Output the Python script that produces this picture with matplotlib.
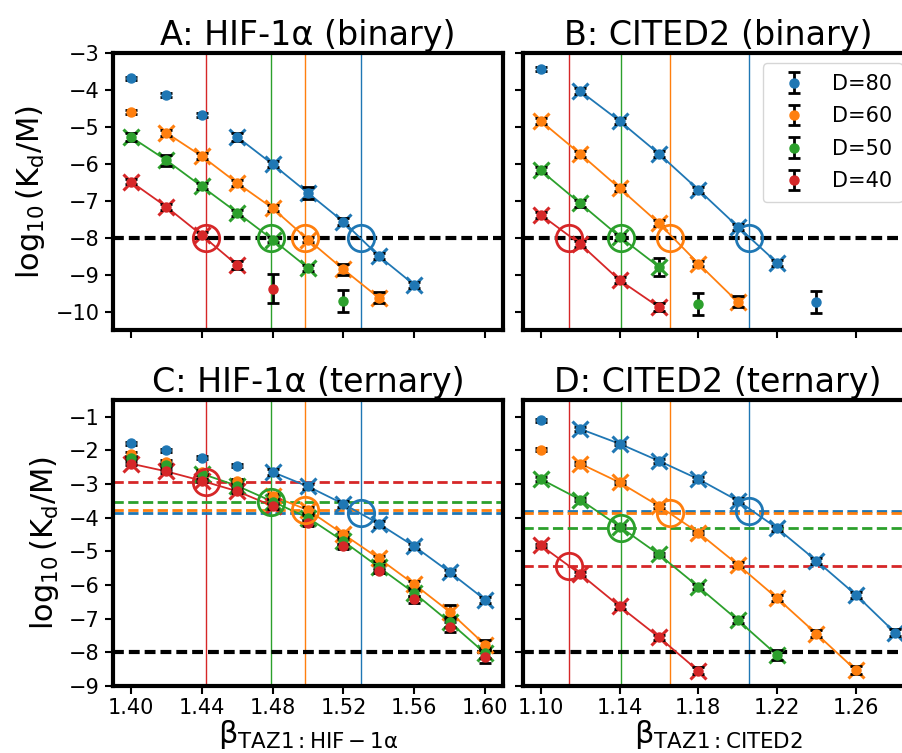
import numpy as np
import matplotlib
matplotlib.use("Agg")
import matplotlib.pyplot as plt

plt.rcParams["font.family"] = ["DejaVu Sans"]
plt.rcParams["mathtext.fontset"] = "dejavusans"

labels = ["D=80", "D=60", "D=50", "D=40"]
colors = ["#1f77b4", "#ff7f0e", "#2ca02c", "#d62728"]

# ---------------- HIF-1alpha, binary ----------------
hifA_x = [
    [1.40, 1.42, 1.44, 1.46, 1.48, 1.50, 1.52, 1.54, 1.56],
    [1.40, 1.42, 1.44, 1.46, 1.48, 1.50, 1.52, 1.54],
    [1.40, 1.42, 1.44, 1.46, 1.48, 1.50, 1.52],
    [1.40, 1.42, 1.44, 1.46, 1.48],
]
hifA_y = [
    [-3.69, -4.14, -4.67, -5.27, -6.01, -6.79, -7.57, -8.50, -9.28],
    [-4.60, -5.16, -5.79, -6.52, -7.20, -8.05, -8.86, -9.63],
    [-5.27, -5.90, -6.61, -7.32, -8.05, -8.82, -9.72],
    [-6.48, -7.16, -7.93, -8.74, -9.38],
]
hifA_err = [
    [0.05, 0.05, 0.05, 0.10, 0.08, 0.15, 0.10, 0.08, 0.08],
    [0.05, 0.08, 0.08, 0.08, 0.08, 0.08, 0.15, 0.15],
    [0.10, 0.15, 0.08, 0.08, 0.08, 0.08, 0.30],
    [0.08, 0.08, 0.08, 0.10, 0.40],
]
hifA_fit = [(1.46, 1.56), (1.42, 1.54), (1.40, 1.50), (1.40, 1.46)]

# ---------------- CITED2, binary ----------------
citB_x = [
    [1.10, 1.12, 1.14, 1.16, 1.18, 1.20, 1.22, 1.24],
    [1.10, 1.12, 1.14, 1.16, 1.18, 1.20],
    [1.10, 1.12, 1.14, 1.16, 1.18],
    [1.10, 1.12, 1.14, 1.16],
]
citB_y = [
    [-3.44, -4.03, -4.84, -5.73, -6.70, -7.70, -8.68, -9.74],
    [-4.84, -5.73, -6.66, -7.61, -8.70, -9.74],
    [-6.18, -7.07, -7.97, -8.79, -9.79],
    [-7.38, -8.17, -9.15, -9.88],
]
citB_err = [
    [0.05, 0.08, 0.08, 0.08, 0.08, 0.08, 0.08, 0.30],
    [0.08, 0.08, 0.08, 0.08, 0.08, 0.15],
    [0.08, 0.10, 0.08, 0.25, 0.30],
    [0.08, 0.08, 0.08, 0.10],
]
citB_fit = [(1.12, 1.22), (1.10, 1.20), (1.10, 1.16), (1.10, 1.16)]

# ---------------- HIF-1alpha, ternary ----------------
hifC_x = [
    [1.40, 1.42, 1.44, 1.46, 1.48, 1.50, 1.52, 1.54, 1.56, 1.58, 1.60],
] * 4
hifC_y = [
    [-1.79, -2.00, -2.21, -2.45, -2.64, -3.07, -3.59, -4.18, -4.85, -5.62, -6.44],
    [-2.11, -2.33, -2.64, -2.90, -3.36, -3.77, -4.49, -5.21, -5.98, -6.80, -7.78],
    [-2.21, -2.44, -2.69, -3.05, -3.52, -4.00, -4.70, -5.47, -6.24, -7.11, -8.03],
    [-2.39, -2.62, -2.90, -3.21, -3.65, -4.15, -4.85, -5.57, -6.42, -7.24, -8.13],
]
hifC_err = [
    [0.05, 0.05, 0.05, 0.05, 0.08, 0.08, 0.08, 0.08, 0.08, 0.08, 0.08],
    [0.05, 0.05, 0.05, 0.05, 0.08, 0.08, 0.08, 0.08, 0.10, 0.20, 0.15],
    [0.05, 0.05, 0.05, 0.05, 0.08, 0.08, 0.08, 0.08, 0.10, 0.15, 0.15],
    [0.05, 0.05, 0.05, 0.05, 0.08, 0.08, 0.08, 0.08, 0.10, 0.15, 0.20],
]
hifC_fit = [(1.48, 1.60), (1.48, 1.60), (1.44, 1.60), (1.40, 1.48)]
hifC_level = [-3.85, -3.77, -3.52, -2.95]

# ---------------- CITED2, ternary ----------------
citD_x = [
    [1.10, 1.12, 1.14, 1.16, 1.18, 1.20, 1.22, 1.24, 1.26, 1.28],
    [1.10, 1.12, 1.14, 1.16, 1.18, 1.20, 1.22, 1.24, 1.26],
    [1.10, 1.12, 1.14, 1.16, 1.18, 1.20, 1.22],
    [1.10, 1.12, 1.14, 1.16, 1.18],
]
citD_y = [
    [-1.10, -1.36, -1.80, -2.31, -2.85, -3.49, -4.31, -5.28, -6.29, -7.42],
    [-1.98, -2.39, -2.95, -3.65, -4.44, -5.39, -6.39, -7.45, -8.53],
    [-2.85, -3.46, -4.26, -5.09, -6.05, -7.04, -8.08],
    [-4.82, -5.67, -6.63, -7.55, -8.55],
]
citD_err = [
    [0.05, 0.05, 0.05, 0.05, 0.05, 0.08, 0.08, 0.08, 0.08, 0.10],
    [0.05, 0.05, 0.05, 0.05, 0.05, 0.08, 0.08, 0.10, 0.12],
    [0.05, 0.05, 0.05, 0.05, 0.08, 0.08, 0.15],
    [0.05, 0.05, 0.08, 0.08, 0.10],
]
citD_fit = [(1.12, 1.28), (1.12, 1.26), (1.10, 1.22), (1.10, 1.18)]
citD_level = [-3.79, -3.85, -4.29, -5.44]

# beta where each binary curve crosses log10(Kd/M) = -8
hif_cross = [1.530, 1.4985, 1.479, 1.4425]
cit_cross = [1.2057, 1.1657, 1.141, 1.1143]
kd_target = -8

W, H = 902, 753
fig = plt.figure(figsize=(W / 100, H / 100), dpi=100)


def box(left, top, right, bottom):
    return [left / W, 1 - bottom / H, (right - left) / W, (bottom - top) / H]


axA = fig.add_axes(box(113, 53, 503, 330))
axB = fig.add_axes(box(523, 53, 913, 330))
axC = fig.add_axes(box(113, 400, 503, 686))
axD = fig.add_axes(box(523, 400, 913, 686))


def draw(ax, xs, ys, errs, fits, cross, levels=None):
    handles = []
    for i in range(4):
        c = colors[i]
        x = np.array(xs[i])
        y = np.array(ys[i])
        lo, hi = fits[i]
        m = (x >= lo - 1e-9) & (x <= hi + 1e-9)
        ax.plot(x[m], y[m], "-x", color=c, lw=1.3, ms=12, mew=2.2, zorder=2)
        h = ax.errorbar(x, y, yerr=errs[i], fmt="o", color=c, ecolor="k",
                        ms=6.5, elinewidth=2, capsize=4, capthick=2,
                        zorder=3, label=labels[i])
        handles.append(h)
        ax.axvline(cross[i], color=c, lw=1.0, zorder=1)
        yc = kd_target if levels is None else levels[i]
        if levels is not None:
            ax.axhline(levels[i], color=c, lw=2, ls=(0, (3.7, 1.6)), zorder=1.5)
        ax.plot([cross[i]], [yc], "o", mfc="none", mec=c, ms=19, mew=2, zorder=4)
    ax.axhline(kd_target, color="k", lw=3, ls=(0, (2.6, 1.2)), zorder=1.6)
    return handles


draw(axA, hifA_x, hifA_y, hifA_err, hifA_fit, hif_cross)
hB = draw(axB, citB_x, citB_y, citB_err, citB_fit, cit_cross)
draw(axC, hifC_x, hifC_y, hifC_err, hifC_fit, hif_cross, hifC_level)
draw(axD, citD_x, citD_y, citD_err, citD_fit, cit_cross, citD_level)

for ax in (axA, axC):
    ax.set_xlim(1.39, 1.61)
    ax.set_xticks([1.40, 1.44, 1.48, 1.52, 1.56, 1.60])
for ax in (axB, axD):
    ax.set_xlim(1.091, 1.289)
    ax.set_xticks([1.10, 1.14, 1.18, 1.22, 1.26])
for ax in (axA, axB):
    ax.set_ylim(-10.5, -3)
    ax.set_yticks(np.arange(-10, -2))
    ax.tick_params(labelbottom=False)
for ax in (axC, axD):
    ax.set_ylim(-9, -0.5)
    ax.set_yticks(np.arange(-9, 0))
    ax.xaxis.set_major_formatter(matplotlib.ticker.FormatStrFormatter("%.2f"))
for ax in (axB, axD):
    ax.tick_params(labelleft=False)

for ax in (axA, axB, axC, axD):
    for s in ax.spines.values():
        s.set_linewidth(3)
    ax.tick_params(labelsize=15, length=6, width=1.5)
for ax in (axC, axD):
    ax.tick_params(axis="x", pad=2.5)

axA.set_title("A: HIF-1α (binary)", fontsize=24)
axB.set_title("B: CITED2 (binary)", fontsize=24)
axC.set_title("C: HIF-1α (ternary)", fontsize=24)
axD.set_title("D: CITED2 (ternary)", fontsize=24)

axA.set_ylabel(r"$\log_{10}(\mathrm{K_d/M})$", fontsize=22, labelpad=6)
axC.set_ylabel(r"$\log_{10}(\mathrm{K_d/M})$", fontsize=22, labelpad=6)
axC.set_xlabel(r"$\mathrm{\beta}_{\mathrm{TAZ1:HIF-1\alpha}}$", fontsize=22,
               labelpad=0)
axD.set_xlabel(r"$\mathrm{\beta}_{\mathrm{TAZ1:CITED2}}$", fontsize=22,
               labelpad=0)

axB.legend(handles=hB, loc="upper right", fontsize=15, labelspacing=0.6,
           borderpad=0.5)

fig.savefig("out.png", dpi=100)
